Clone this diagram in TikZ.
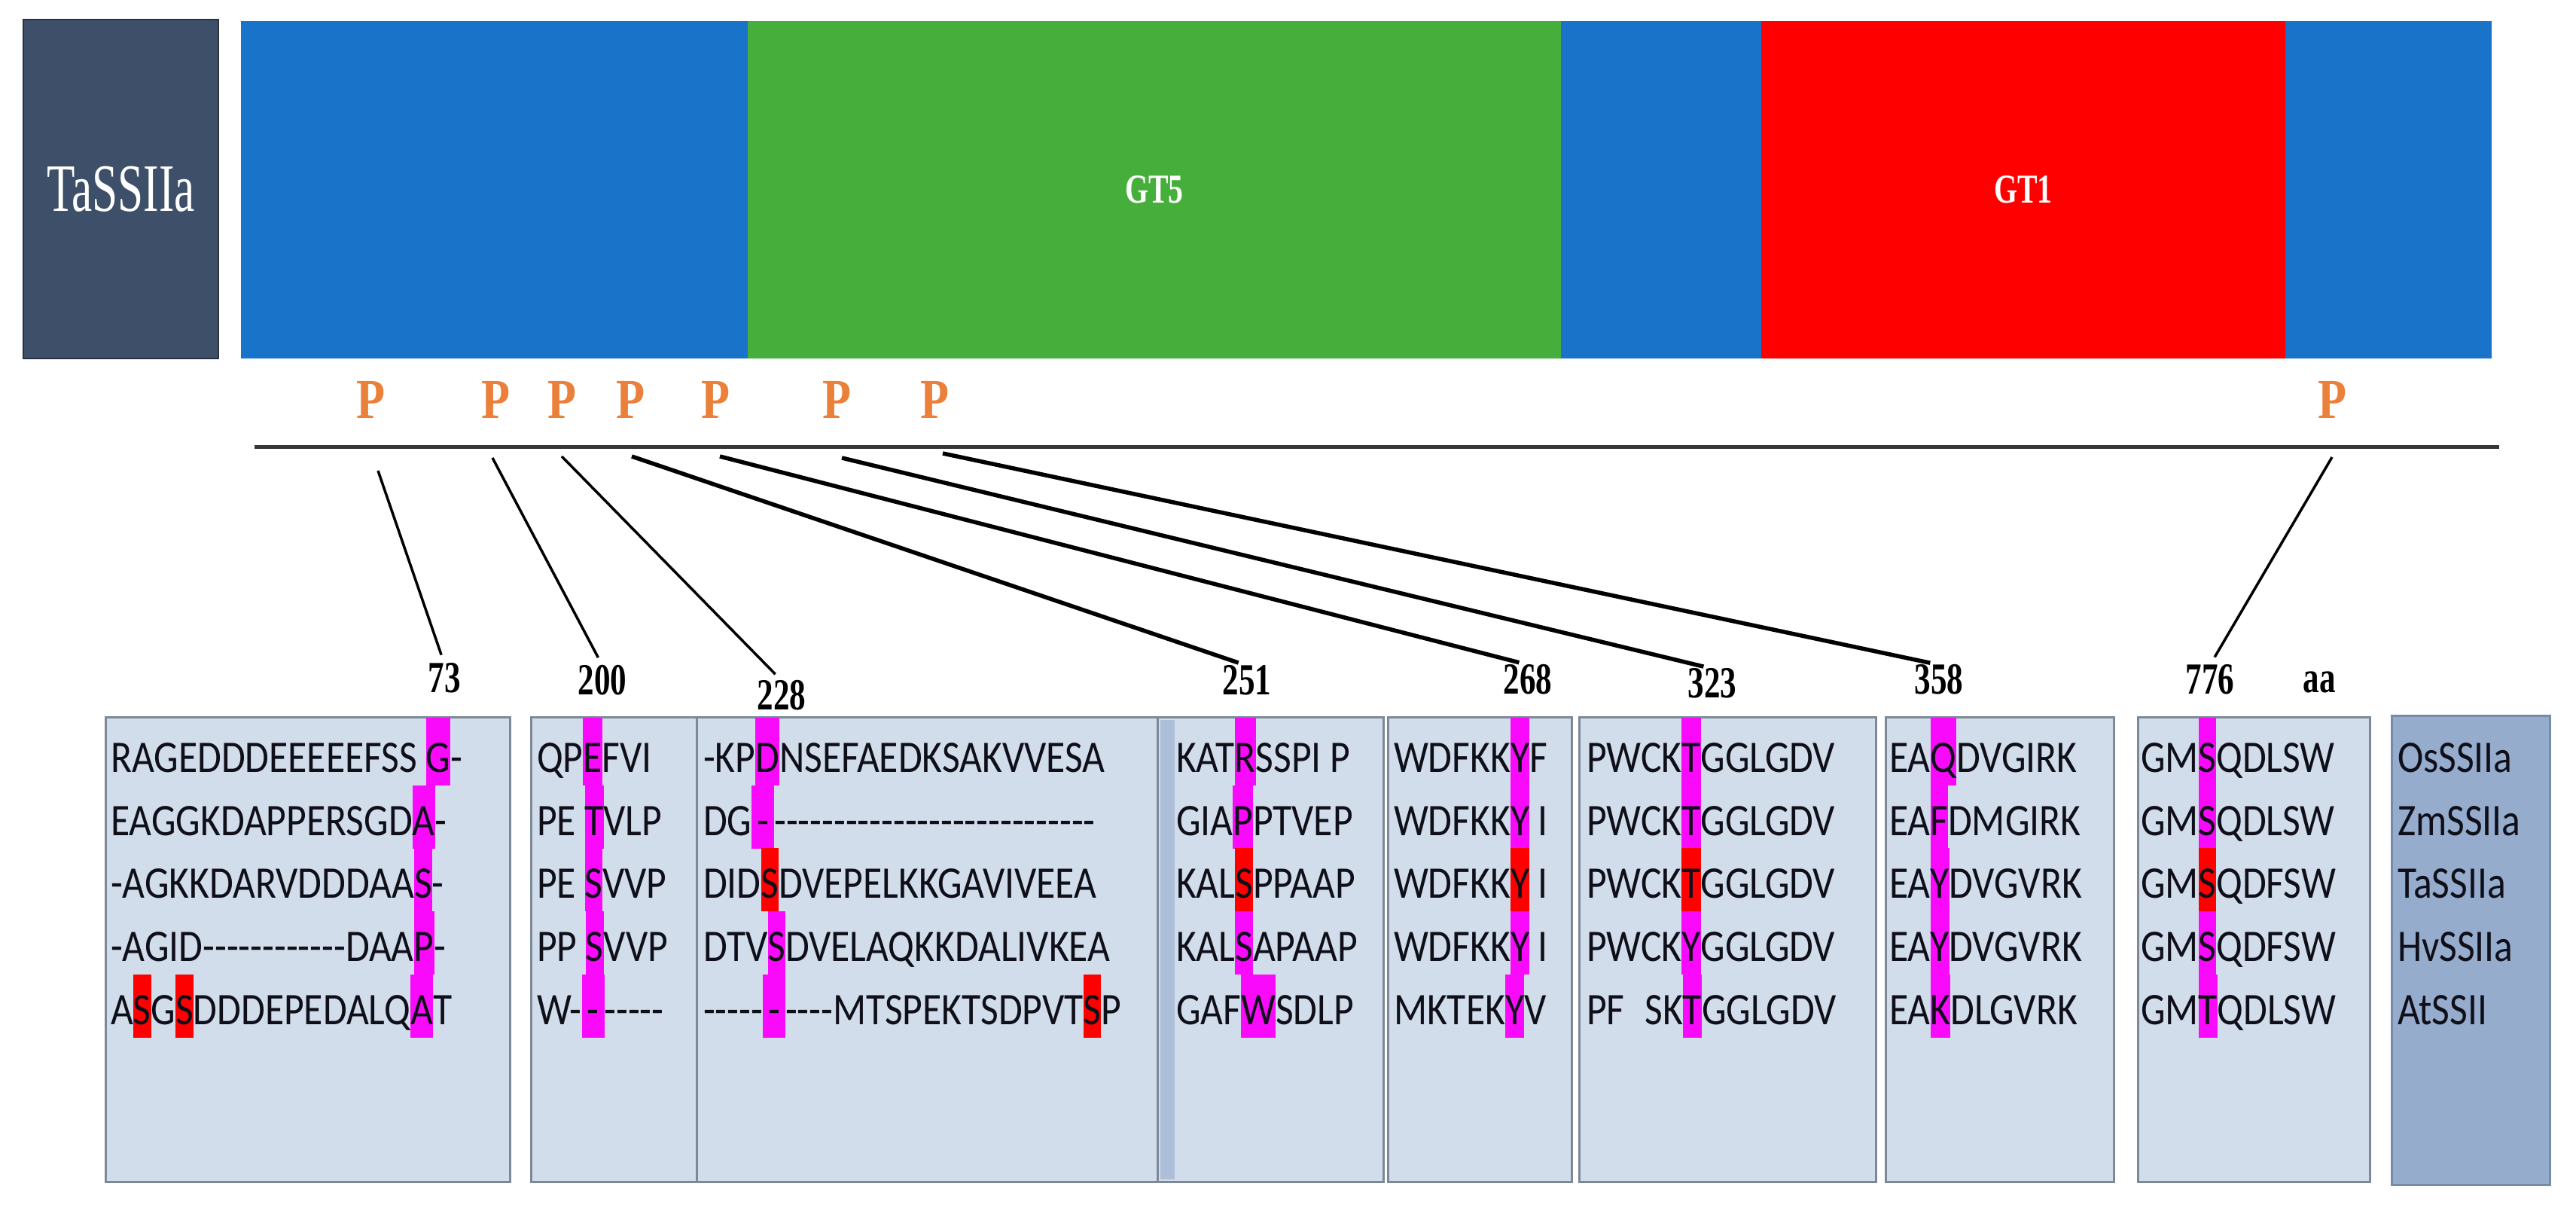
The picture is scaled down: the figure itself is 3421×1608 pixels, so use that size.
\documentclass[tikz,border=0pt]{standalone}
\usepackage{fontspec}
\setmainfont{Carlito}
\newfontfamily\alnfont{Carlito}[FakeStretch=0.86,Ligatures=TeXOff]
\newfontfamily\numfont{Liberation Serif}[FakeStretch=0.73]
\newfontfamily\pfont{Liberation Serif}[FakeStretch=0.83]
\newfontfamily\tafont{Liberation Serif}[FakeStretch=0.68]

\definecolor{barblue}{RGB}{24,115,201}
\definecolor{bargreen}{RGB}{70,175,60}
\definecolor{barred}{RGB}{255,0,0}
\definecolor{tabox}{RGB}{62,80,105}
\definecolor{taedge}{RGB}{40,50,66}
\definecolor{pcol}{RGB}{234,128,58}
\definecolor{boxfill}{RGB}{210,221,235}
\definecolor{boxedge}{RGB}{125,137,152}
\definecolor{legfill}{RGB}{150,172,205}
\definecolor{legedge}{RGB}{120,138,165}
\definecolor{stripcol}{RGB}{172,190,216}
\definecolor{hlmag}{RGB}{250,10,250}
\definecolor{hlred}{RGB}{255,0,0}
\definecolor{txt}{RGB}{15,15,25}
\definecolor{linecol}{RGB}{55,55,55}

\newlength\hlh \setlength\hlh{13.2pt}
\newlength\hld \setlength\hld{3.6pt}
\newcommand\hlx[2]{{\setlength{\fboxsep}{0pt}\colorbox{#1}{\rule[-\hld]{0pt}{\dimexpr\hlh+\hld\relax}#2}}}
\newcommand\hm[1]{\hlx{hlmag}{#1}}
\newcommand\hr[1]{\hlx{hlred}{#1}}
\newcommand\hd{\makebox[0.5em]{-}}

% name, x1, x2, y1, y2, style
\newcommand\abox[6]{\node[#6, minimum width={(#3-#2)*0.2pt}, minimum height={(#5-#4)*0.2pt}] (#1) at ({(#2+#3)/2},{(#4+#5)/2}) {};}

\begin{document}
\begin{tikzpicture}[x=0.2pt,y=-0.2pt,
  seg/.style={inner sep=0pt, outer sep=0pt, draw=none},
  alnbox/.style={inner sep=0pt, outer sep=0pt, fill=boxfill, draw=boxedge, line width=0.6pt},
  legbox/.style={inner sep=0pt, outer sep=0pt, fill=legfill, draw=legedge, line width=0.6pt},
  alntext/.style={anchor=base west, inner sep=0pt, outer sep=0pt, text=txt, font=\alnfont\fontsize{12pt}{14pt}\selectfont},
  toprow/.style={execute at begin node={\setlength{\hlh}{14.4pt}}},
  numlab/.style={anchor=base, inner sep=0pt, outer sep=0pt, text=black, font=\numfont\bfseries\fontsize{11.8pt}{13pt}\selectfont},
  plab/.style={anchor=base, inner sep=0pt, text=pcol, font=\pfont\bfseries\fontsize{15pt}{17pt}\selectfont},
  seglab/.style={text=white, font=\numfont\bfseries\fontsize{10.9pt}{12pt}\selectfont},
  thinlink/.style={draw=black, line width=0.7pt, shorten >=2.4pt},
  thicklink/.style={draw=black, line width=1.1pt, shorten >=2.4pt},
  mainline/.style={draw=linecol, line width=1pt}
]
\useasboundingbox (0,0) rectangle (3421,1608);

% ---------- top protein bar ----------
\abox{tas}{31}{290}{26}{476}{seg, fill=tabox, draw=taedge, line width=0.5pt}
\node[text=white, font=\tafont\fontsize{18pt}{20pt}\selectfont] (taslab) at (tas.center) {TaSSIIa};

\abox{blueA}{320}{993}{28}{476}{seg, fill=barblue}
\abox{gt5}{993}{2073}{28}{476}{seg, fill=bargreen}
\abox{blueB}{2073}{2339}{28}{476}{seg, fill=barblue}
\abox{gt1}{2339}{3035}{28}{476}{seg, fill=barred}
\abox{blueC}{3035}{3309}{28}{476}{seg, fill=barblue}
\node[seglab] (gt5lab) at (gt5.center) {GT5};
\node[seglab] (gt1lab) at (gt1.center) {GT1};

% ---------- phosphorylation sites ----------
\node[plab] (p1) at (493,556) {P};
\node[plab] (p2) at (658,556) {P};
\node[plab] (p3) at (746,556) {P};
\node[plab] (p4) at (837,556) {P};
\node[plab] (p5) at (950,556) {P};
\node[plab] (p6) at (1111,556) {P};
\node[plab] (p7) at (1241,556) {P};
\node[plab] (p8) at (3097,556) {P};

\coordinate (hlA) at (338,594);
\coordinate (hlB) at (3319,594);
\draw[mainline] (hlA) -- (hlB);

% ---------- position labels ----------
\node[numlab] (n73) at (590,920) {73};
\node[numlab] (n200) at (800,923) {200};
\node[numlab] (n228) at (1038,943) {228};
\node[numlab] (n251) at (1656,923) {251};
\node[numlab] (n268) at (2029,922) {268};
\node[numlab] (n323) at (2274,927) {323};
\node[numlab] (n358) at (2575,922) {358};
\node[numlab] (n776) at (2935,922) {776};
\node[numlab] (naa) at (3080,920) {aa};

\coordinate (s73) at (502,625);
\coordinate (s200) at (654,608);
\coordinate (s228) at (746,606);
\coordinate (s251) at (839,606);
\coordinate (s268) at (956,606);
\coordinate (s323) at (1118,608);
\coordinate (s358) at (1252,602);
\coordinate (s776) at (3097,607);

\draw[thinlink] (s73) -- (n73.north);
\draw[thinlink] (s200) -- (n200.north);
\draw[thinlink] (s228) -- (n228.north);
\draw[thicklink] (s251) -- (n251.north);
\draw[thicklink] (s268) -- (n268.north);
\draw[thicklink] (s323) -- (n323.north);
\draw[thicklink] (s358) -- (n358.north);
\draw[thinlink] (s776) -- (n776.north);

% ---------- alignment boxes ----------
\abox{bx1}{140}{677}{953}{1569}{alnbox}
\abox{bx2}{705}{925}{953}{1569}{alnbox}
\abox{bx3}{925}{1537}{953}{1569}{alnbox}
\abox{bx4}{1537}{1837}{953}{1569}{alnbox}
\fill[stripcol] (1541,956) rectangle (1560,1566);
\abox{bx5}{1843}{2087}{953}{1569}{alnbox}
\abox{bx6}{2097}{2491}{953}{1569}{alnbox}
\abox{bx7}{2504}{2807}{953}{1569}{alnbox}
\abox{bx8}{2839}{3147}{953}{1569}{alnbox}
\abox{leg}{3176}{3386}{951}{1573}{legbox}

% box 1 (73)
\node[alntext,toprow] (a1) at (147,1025) {RAGEDDDEEEEEFSS \hm{G}-};
\node[alntext] (a2) at (147,1109) {EAGGKDAPPERSGD\hm{A}-};
\node[alntext] (a3) at (147,1192) {-AGKKDARVDDDAA\hm{S}-};
\node[alntext] (a4) at (147,1276) {-AGID------------DAA\hm{P}-};
\node[alntext] (a5) at (147,1360) {A\hr{S}G\hr{S}DDDEPEDALQ\hm{A}T};

% box 2 (200)
\node[alntext,toprow] (b1) at (713,1025) {QP\hm{E}FVI};
\node[alntext] (b2) at (713,1109) {PE \hm{T}VLP};
\node[alntext] (b3) at (713,1192) {PE \hm{S}VVP};
\node[alntext] (b4) at (713,1276) {PP \hm{S}VVP};
\node[alntext] (b5) at (713,1360) {W-\hm{\hd}-----};

% box 3 (228)
\node[alntext,toprow] (c1) at (934,1025) {-KP\hm{D}NSEFAEDKSAKVVESA};
\node[alntext] (c2) at (934,1109) {DG\hm{\hd}---------------------------};
\node[alntext] (c3) at (934,1192) {DID\hr{S}DVEPELKKGAVIVEEA};
\node[alntext] (c4) at (934,1276) {DTV\hm{S}DVELAQKKDALIVKEA};
\node[alntext] (c5) at (934,1360) {-----\hm{\hd}----MTSPEKTSDPVT\hr{S}P};

% box 4 (251)
\node[alntext,toprow] (d1) at (1562,1025) {KAT\hm{R}SSPI P};
\node[alntext] (d2) at (1562,1109) {GIA\hm{P}PTVEP};
\node[alntext] (d3) at (1562,1192) {KAL\hr{S}PPAAP};
\node[alntext] (d4) at (1562,1276) {KAL\hm{S}APAAP};
\node[alntext] (d5) at (1562,1360) {GAF\hm{W}SDLP};

% box 5 (268)
\node[alntext,toprow] (e1) at (1851,1025) {WDFKK\hm{Y}F};
\node[alntext] (e2) at (1851,1109) {WDFKK\hm{Y} I};
\node[alntext] (e3) at (1851,1192) {WDFKK\hr{Y} I};
\node[alntext] (e4) at (1851,1276) {WDFKK\hm{Y} I};
\node[alntext] (e5) at (1851,1360) {MKTEK\hm{Y}V};

% box 6 (323)
\node[alntext,toprow] (f1) at (2107,1025) {PWCK\hm{T}GGLGDV};
\node[alntext] (f2) at (2107,1109) {PWCK\hm{T}GGLGDV};
\node[alntext] (f3) at (2107,1192) {PWCK\hr{T}GGLGDV};
\node[alntext] (f4) at (2107,1276) {PWCK\hm{Y}GGLGDV};
\node[alntext] (f5) at (2107,1360) {PF\hspace{0.45em}SK\hm{T}GGLGDV};

% box 7 (358)
\node[alntext,toprow] (g1) at (2509,1025) {EA\hm{Q}DVGIRK};
\node[alntext] (g2) at (2509,1109) {EA\hm{F}DMGIRK};
\node[alntext] (g3) at (2509,1192) {EA\hm{Y}DVGVRK};
\node[alntext] (g4) at (2509,1276) {EA\hm{Y}DVGVRK};
\node[alntext] (g5) at (2509,1360) {EA\hm{K}DLGVRK};

% box 8 (776)
\node[alntext,toprow] (h1) at (2843,1025) {GM\hm{S}QDLSW};
\node[alntext] (h2) at (2843,1109) {GM\hm{S}QDLSW};
\node[alntext] (h3) at (2843,1192) {GM\hr{S}QDFSW};
\node[alntext] (h4) at (2843,1276) {GM\hm{S}QDFSW};
\node[alntext] (h5) at (2843,1360) {GM\hm{T}QDLSW};

% legend
\node[alntext] (l1) at (3184,1025) {OsSSIIa};
\node[alntext] (l2) at (3184,1109) {ZmSSIIa};
\node[alntext] (l3) at (3184,1192) {TaSSIIa};
\node[alntext] (l4) at (3184,1276) {HvSSIIa};
\node[alntext] (l5) at (3184,1360) {AtSSII};
\end{tikzpicture}
\end{document}
